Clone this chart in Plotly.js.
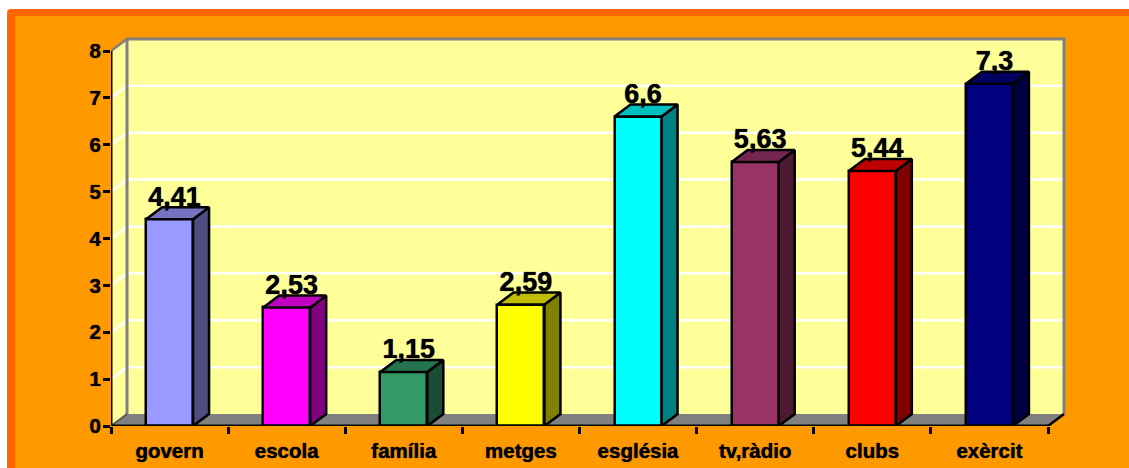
<!DOCTYPE html>
<html>
<head>
<meta charset="utf-8">
<script src="https://cdn.plot.ly/plotly-3.0.1.min.js"></script>
<style>html,body{margin:0;padding:0;background:#fff}#c{width:1129px;height:468px}</style>
</head>
<body>
<div id="c"></div>
<script>
const categories = ['govern','escola','família','metges','església','tv,ràdio','clubs','exèrcit'];
const values = [4.41,2.53,1.15,2.59,6.6,5.63,5.44,7.3];
const labels = ['4,41','2,53','1,15','2,59','6,6','5,63','5,44','7,3'];
const frontColors = ['#9999FF','#FF00FF','#339966','#FFFF00','#00FFFF','#993366','#FF0000','#000080'];
const topColors = ['#7373BF','#BF00BF','#267350','#BFBF00','#00BFBF','#732650','#BF0000','#000060'];
const sideColors = ['#4D4D80','#800080','#1A4D33','#808000','#008080','#4D1A33','#800000','#000040'];
const yTicks = [0,1,2,3,4,5,6,7,8];

// Pixel frame of the plot (a little slack on top and right so the wall border is not cut)
const L=111, T=34, W=960, H=392, pxX=117.125, pxY=46.875;
const dx=16/pxX, dy=12/pxY, barW=47/pxX, nCat=categories.length, yMax=8;
const px=v=>(v-L)/W, py=v=>(T+H-v)/H;
const centers=categories.map((c,i)=>i+0.5);
const ink={family:'"Liberation Sans", Arial, sans-serif',color:'#000',weight:700};

const poly=(xs,ys,color)=>({type:'scatter',mode:'lines',x:xs.concat(xs[0]),y:ys.concat(ys[0]),fill:'toself',
  fillcolor:color,line:{color:'#000',width:2.5},hoverinfo:'skip',showlegend:false,cliponaxis:false});
const stroke=(xs,ys,color,w)=>({type:'scatter',mode:'lines',x:xs,y:ys,line:{color:color,width:w},hoverinfo:'skip',showlegend:false,cliponaxis:false});

const traces=[{type:'bar',x:centers,y:values,width:barW,marker:{color:frontColors,line:{color:'#000',width:2.5}},
  hoverinfo:'x+y',showlegend:false}];
values.forEach((v,i)=>{
  const a=centers[i]-barW/2,b=centers[i]+barW/2;
  traces.push(poly([b,b+dx,b+dx,b],[0,dy,v+dy,v],sideColors[i]));
  traces.push(poly([a,b,b+dx,a+dx],[v,v,v+dy,v+dy],topColors[i]));
});
// wall edges and front axes
traces.push(stroke([0,dx],[yMax,yMax+dy],'#808080',2.5));
traces.push(stroke([dx,dx,nCat+dx,nCat+dx],[dy,yMax+dy,yMax+dy,dy],'#808080',3));
traces.push(stroke([0,dx],[0,dy],'#555',2));
traces.push(stroke([nCat,nCat+dx],[0,dy],'#000',2.5));
traces.push(stroke([0,0],[0,yMax],'#000',3));
traces.push(stroke([0,nCat],[0,0],'#000',3));
traces.push({type:'scatter',mode:'text',x:centers.map(c=>c+dx*0.31),y:values.map(v=>v+dy-5/pxY),text:labels,textposition:'top center',
  textfont:Object.assign({size:27,shadow:'0 0 1px #000'},ink),hoverinfo:'skip',showlegend:false,cliponaxis:false});

const shapes=[];
// page frame
const frame=(x,y,r,color)=>{
  const X0=px(x),Y0=py(y),X1=px(1140),Y1=py(480),rx=r/W,ry=r/H;
  return {type:'path',xref:'paper',yref:'paper',layer:'below',fillcolor:color,line:{width:0},
    path:`M ${X0} ${Y1} L ${X0} ${Y0-ry} Q ${X0} ${Y0} ${X0+rx} ${Y0} L ${X1} ${Y0} L ${X1} ${Y1} Z`};
};
shapes.push(frame(7,9,4,'#FF6600'));
shapes.push(frame(15,16,0,'#FF9900'));
// walls and floor
const wall=(p,color)=>({type:'path',xref:'x',yref:'y',layer:'below',fillcolor:color,line:{width:0},
  path:'M '+p.map(q=>q.join(' ')).join(' L ')+' Z'});
shapes.push(wall([[dx,dy],[nCat+dx,dy],[nCat+dx,yMax+dy],[dx,yMax+dy]],'#FFFF99'));
shapes.push(wall([[0,0],[dx,dy],[dx,yMax+dy],[0,yMax]],'#FFFF99'));
shapes.push(wall([[0,0],[nCat,0],[nCat+dx,dy],[dx,dy]],'#808080'));
yTicks.slice(1,-1).forEach(k=>{
  shapes.push({type:'path',xref:'x',yref:'y',layer:'below',line:{color:'#FFFFFF',width:2.5},
    path:`M 0 ${k} L ${dx} ${k+dy} L ${nCat+dx} ${k+dy}`});
});

const layout={width:1129,height:468,margin:{l:L,t:T,r:1129-L-W,b:468-T-H,pad:0},
  paper_bgcolor:'#FFFFFF',plot_bgcolor:'rgba(0,0,0,0)',showlegend:false,bargap:0,shapes:shapes,
  xaxis:{range:[0,W/pxX],tickmode:'array',tickvals:centers,ticktext:categories,ticks:'',showgrid:false,zeroline:false,showline:false,
    tickfont:Object.assign({size:20.5,shadow:'0 0 1px #000'},ink),ticklabelstandoff:10,
    minor:{tickmode:'array',tickvals:categories.map((c,i)=>i).concat(nCat),ticks:'outside',ticklen:7,tickwidth:2.5,tickcolor:'#000',showgrid:false}},
  yaxis:{range:[0,H/pxY],tickmode:'array',tickvals:yTicks,ticks:'outside',ticklen:7,tickwidth:2.5,tickcolor:'#000',showgrid:false,zeroline:false,showline:false,
    ticklabelstandoff:-2,tickfont:Object.assign({size:20.5,shadow:'0 0 1px #000'},ink)}
};
Plotly.newPlot('c',traces,layout,{displayModeBar:false,responsive:false});
</script>
</body>
</html>
